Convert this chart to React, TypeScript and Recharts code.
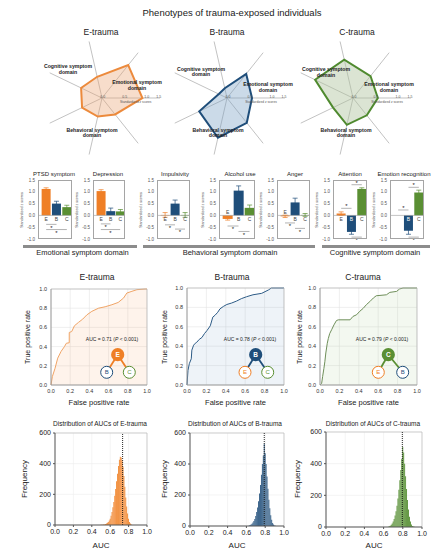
import React from 'react';
import {
  RadarChart, Radar, PolarGrid, PolarAngleAxis, PolarRadiusAxis,
  BarChart, Bar, XAxis, YAxis, ErrorBar, ReferenceLine, LabelList,
  AreaChart, Area, CartesianGrid,
} from 'recharts';

const FONT = '"Liberation Sans", Arial, Helvetica, sans-serif';

const ORANGE = '#ef7f26';
const BLUE = '#1f4e7a';
const GREEN = '#5a8f33';

// mean standardized z scores per trait, for E / B / C trauma groups
const traits = ['PTSD symptom', 'Depression', 'Impulsivity', 'Alcohol use', 'Anger', 'Attention', 'Emotion recognition'];
const eMeans = [1.12, 1.03, 0.02, -0.15, -0.04, 0.08, 0.0];
const bMeans = [0.5, 0.18, 0.5, 1.05, 0.55, -0.7, -0.65];
const cMeans = [0.35, 0.17, 0.02, 0.32, 0.02, 1.12, 0.97];
const eErrs = [0.05, 0.06, 0.1, 0.05, 0.05, 0.07, 0.05];
const bErrs = [0.1, 0.13, 0.15, 0.2, 0.18, 0.1, 0.15];
const cErrs = [0.08, 0.08, 0.1, 0.12, 0.06, 0.05, 0.1];
const zTicks = [-1, -0.5, 0, 0.5, 1, 1.5];

// spokes on the radar, clockwise starting from the upper-right spoke
const radarOrder = ['PTSD symptom', 'Depression', 'Anger', 'Alcohol use', 'Impulsivity', 'Attention', 'Emotion recognition'];

// significance brackets: [from, to, y, side]
const brackets: [string, string, number, string][][] = [
  [['E', 'B', -0.38, 'bottom'], ['E', 'C', -0.6, 'bottom']],
  [['E', 'B', -0.36, 'bottom'], ['E', 'C', -0.6, 'bottom']],
  [['E', 'B', -0.4, 'bottom'], ['B', 'C', -0.58, 'bottom']],
  [['E', 'B', -0.45, 'bottom'], ['B', 'C', -0.68, 'bottom']],
  [['E', 'B', -0.32, 'bottom'], ['B', 'C', -0.55, 'bottom']],
  [['E', 'B', 0.3, 'top'], ['B', 'C', 1.3, 'top'], ['B', 'C', -0.92, 'bottom']],
  [['E', 'B', 0.23, 'top'], ['B', 'C', 1.19, 'top'], ['B', 'C', -0.92, 'bottom']],
];

// ROC curves
const rocEFpr = [0, 0.014, 0.042, 0.07, 0.105, 0.14, 0.16, 0.19, 0.19, 0.216, 0.244, 0.286, 0.33, 0.373, 0.425, 0.495, 0.564, 0.634, 0.7, 0.756, 0.79, 0.843, 0.895, 0.98, 1];
const rocETpr = [0, 0.087, 0.174, 0.28, 0.35, 0.4, 0.435, 0.44, 0.547, 0.557, 0.617, 0.652, 0.686, 0.73, 0.767, 0.8, 0.815, 0.836, 0.86, 0.906, 0.958, 0.976, 0.993, 1, 1];
const rocBFpr = [0, 0.01, 0.024, 0.044, 0.05, 0.068, 0.085, 0.1, 0.126, 0.154, 0.18, 0.205, 0.24, 0.266, 0.29, 0.317, 0.34, 0.375, 0.41, 0.46, 0.51, 0.56, 0.614, 0.68, 0.77, 0.84, 0.87, 1];
const rocBTpr = [0, 0.15, 0.22, 0.27, 0.36, 0.41, 0.43, 0.44, 0.47, 0.49, 0.53, 0.56, 0.61, 0.7, 0.72, 0.75, 0.785, 0.81, 0.83, 0.845, 0.865, 0.89, 0.91, 0.93, 0.945, 0.98, 1, 1];
const rocCFpr = [0, 0.017, 0.027, 0.04, 0.05, 0.06, 0.075, 0.086, 0.1, 0.12, 0.144, 0.17, 0.19, 0.31, 0.34, 0.377, 0.41, 0.445, 0.48, 0.514, 0.55, 0.58, 0.685, 0.72, 0.79, 0.82, 0.856, 1];
const rocCTpr = [0, 0.017, 0.086, 0.17, 0.24, 0.33, 0.43, 0.48, 0.53, 0.57, 0.62, 0.665, 0.672, 0.672, 0.707, 0.724, 0.76, 0.79, 0.83, 0.86, 0.897, 0.92, 0.93, 0.955, 0.965, 0.99, 1, 1];

// permutation AUC histograms
const histBins = [0.5, 0.51, 0.52, 0.53, 0.54, 0.55, 0.56, 0.57, 0.58, 0.59, 0.6, 0.61, 0.62, 0.63, 0.64, 0.65, 0.66, 0.67, 0.68, 0.69, 0.7, 0.71, 0.72, 0.73, 0.74, 0.75, 0.76, 0.77, 0.78, 0.79, 0.8, 0.81, 0.82, 0.83, 0.84, 0.85, 0.86, 0.87, 0.88, 0.89, 0.9, 0.91, 0.92];
const histE = [1, 1, 2, 3, 4, 6, 9, 14, 20, 30, 40, 60, 85, 115, 150, 190, 235, 285, 335, 385, 425, 445, 440, 420, 380, 320, 250, 180, 120, 75, 40, 20, 10, 4, 0, 0, 0, 0, 0, 0, 0, 0, 0];
const histB = [0, 0, 0, 0, 0, 0, 0, 0, 0, 0, 0, 0, 0, 3, 6, 10, 15, 22, 32, 45, 65, 90, 120, 160, 210, 265, 330, 400, 455, 530, 470, 400, 320, 240, 170, 115, 70, 40, 20, 10, 4, 2, 0];
const histC = [0, 0, 0, 0, 0, 0, 0, 0, 0, 0, 0, 0, 0, 0, 0, 2, 4, 8, 14, 22, 34, 50, 72, 100, 135, 180, 235, 295, 360, 430, 505, 470, 400, 320, 240, 170, 110, 65, 35, 16, 7, 3, 1];

const radarData = radarOrder.map((t) => {
  const i = traits.indexOf(t);
  return { trait: t, E: eMeans[i], B: bMeans[i], C: cMeans[i] };
});
const histData = histBins.map((auc, i) => ({ auc, E: histE[i], B: histB[i], C: histC[i] }));
const toRoc = (f: number[], t: number[]) => f.map((v, i) => ({ fpr: v, tpr: t[i] }));

function Txt({ x, y, size, children, bold, color, rotate, italic }: any) {
  return (
    <div style={{
      position: 'absolute', left: x, top: y,
      transform: `translate(-50%,-50%)${rotate ? ` rotate(${rotate}deg)` : ''}`,
      fontSize: size, fontWeight: bold ? 'bold' : 'normal', fontStyle: italic ? 'italic' : 'normal',
      color: color || '#222', whiteSpace: 'nowrap', lineHeight: 1.15, textAlign: 'center', fontFamily: FONT,
    }}>{children}</div>
  );
}

function RadarPanel({ cx, cy, group, stroke, fill, opacity }: any) {
  return (
    <div style={{ position: 'absolute', left: cx - 65, top: cy - 65, width: 130, height: 130 }}>
      <RadarChart width={130} height={130} data={radarData} outerRadius={58} startAngle={51.43} endAngle={-308.57}
        margin={{ top: 0, right: 0, bottom: 0, left: 0 }}>
        <PolarGrid gridType="polygon" polarRadius={[]} stroke="#a8a8a8" strokeWidth={0.7} />
        <PolarAngleAxis dataKey="trait" tick={false} axisLine={false} tickLine={false} />
        <PolarRadiusAxis domain={[-1.2, 1.5]} allowDataOverflow tick={false} axisLine={false} />
        <Radar dataKey={group} stroke={stroke} strokeWidth={2} fill={fill} fillOpacity={opacity}
          dot={false} isAnimationActive={false} />
      </RadarChart>
    </div>
  );
}

function RadarScale({ cx, cy }: any) {
  return (
    <>
      <Txt x={cx + 1} y={cy - 1.5} size={3.5} color="#555">0.0</Txt>
      <Txt x={cx + 23} y={cy - 1.5} size={3.5} color="#555">0.5</Txt>
      <Txt x={cx + 45} y={cy - 1.5} size={3.5} color="#555">1.0</Txt>
      <Txt x={cx + 57} y={cy - 1.5} size={3.5} color="#555">1.5</Txt>
      <Txt x={cx + 34} y={cy + 5} size={3.2} color="#555">Standardized z scores</Txt>
    </>
  );
}

const letterLabel = (letter: string) => (props: any) => {
  const { value } = props;
  if (value == null) return null;
  const vb = props.viewBox || props;
  const { x, y, width, height } = vb;
  if (x == null || y == null) return null;
  const top = Math.min(y, y + height);
  const bot = Math.max(y, y + height);
  const zero = value >= 0 ? bot : top;
  let ty = zero + 4;
  let fill = '#444';
  if (value < -0.3) fill = '#fff';
  else if (value < 0) ty = zero - 2.5;
  return (
    <text x={x + width / 2} y={ty} textAnchor="middle" dominantBaseline="middle" fontSize={5}
      fill={fill} fontFamily={FONT}>{letter}</text>
  );
};

function BarPanel({ idx, left, right, titleX }: any) {
  const rows = [
    { g: 'E', e: eMeans[idx], eErr: eErrs[idx] },
    { g: 'B', b: bMeans[idx], bErr: bErrs[idx] },
    { g: 'C', c: cMeans[idx], cErr: cErrs[idx] },
  ];
  const w = right - left;
  const yw = 12;
  const series = [
    { key: 'e', err: 'eErr', color: ORANGE, letter: 'E' },
    { key: 'b', err: 'bErr', color: BLUE, letter: 'B' },
    { key: 'c', err: 'cErr', color: GREEN, letter: 'C' },
  ];
  return (
    <>
      <Txt x={titleX} y={174} size={6}>{traits[idx]}</Txt>
      <Txt x={left - 16} y={210} size={3.6} rotate={-90} color="#444">Standardized z scores</Txt>
      <div style={{ position: 'absolute', left: left - yw, top: 176 }}>
        <BarChart width={w + yw + 2} height={73} data={rows} margin={{ top: 4, right: 2, bottom: 10, left: 0 }}
          barCategoryGap="6%">
          <XAxis dataKey="g" hide padding={{ left: 3, right: 0 }} />
          <YAxis domain={[-1, 1.5]} ticks={zTicks} width={yw} tickSize={1} tickMargin={2} axisLine={false}
            tickLine={false} tick={{ fontSize: 4.5, fill: '#555', fontFamily: FONT }}
            tickFormatter={(v: number) => v.toFixed(1)} interval={0} />
          <ReferenceLine y={0} stroke="#9a9a9a" strokeWidth={0.6} />
          {series.map((s) => (
            <Bar key={s.key} dataKey={s.key} stackId="s" fill={s.color} isAnimationActive={false}>
              <ErrorBar dataKey={s.err} width={2.5} strokeWidth={0.7} stroke={s.color} direction="y" />
              <LabelList dataKey={s.key} content={letterLabel(s.letter)} />
            </Bar>
          ))}
          {brackets[idx].map(([a, b, y, side], k) => (
            <ReferenceLine key={k} segment={[{ x: a, y }, { x: b, y }]} stroke="#666" strokeWidth={0.5}
              label={{ value: '*', position: side, fontSize: 6, fill: '#222', offset: side === 'top' ? 0 : 1 }} />
          ))}
        </BarChart>
      </div>
      <div style={{
        position: 'absolute', left, top: 180, width: w, height: 59, boxSizing: 'border-box',
        border: '0.8px solid #a5a5a5', pointerEvents: 'none',
      }} />
    </>
  );
}

function RocPanel({ plot, data, stroke, fill, title, titleX, ylabX, auc, aucX }: any) {
  const yw = 20;
  const w = plot.r - plot.l;
  const h = plot.b - plot.t;
  const axisTick = { fontSize: 5.5, fill: '#333', fontFamily: FONT };
  const ticks = [0, 0.2, 0.4, 0.6, 0.8, 1];
  return (
    <>
      <Txt x={titleX} y={278} size={8.5}>{title}</Txt>
      <Txt x={ylabX} y={337} size={7} rotate={-90}>True positive rate</Txt>
      <Txt x={(plot.l + plot.r) / 2} y={403} size={7.5}>False positive rate</Txt>
      <div style={{ position: 'absolute', left: plot.l - yw, top: plot.t - 5 }}>
        <AreaChart width={w + yw + 8} height={h + 5 + 12} data={data}
          margin={{ top: 5, right: 8, bottom: 0, left: 0 }}>
          <CartesianGrid stroke="#e4e4e4" strokeWidth={0.6} />
          <XAxis dataKey="fpr" type="number" domain={[0, 1]} ticks={ticks} height={12} tickSize={2} tickMargin={2}
            tickLine={false} stroke="#9a9a9a" tick={axisTick} tickFormatter={(v: number) => v.toFixed(1)} interval={0} />
          <YAxis type="number" domain={[0, 1]} ticks={ticks} width={yw} tickSize={2} tickMargin={2}
            tickLine={false} stroke="#9a9a9a" tick={axisTick} tickFormatter={(v: number) => v.toFixed(1)} interval={0} />
          <Area type="linear" dataKey="tpr" stroke={stroke} strokeWidth={1} fill={fill} fillOpacity={0.09}
            isAnimationActive={false} dot={false} />
          <ReferenceLine x={1} stroke="#b5b5b5" strokeWidth={0.7} />
          <ReferenceLine y={1} stroke="#b5b5b5" strokeWidth={0.7} />
        </AreaChart>
      </div>
      <Txt x={aucX} y={340} size={5}>AUC = {auc} (<i>P</i> &lt; 0.001)</Txt>
    </>
  );
}

function HistPanel({ plot, group, color, line, title, titleX, ylabX }: any) {
  const yw = 22;
  const w = plot.r - plot.l;
  const h = plot.b - plot.t;
  const tick = { fontSize: 7, fill: '#222', fontFamily: FONT };
  return (
    <>
      <Txt x={titleX} y={424} size={6.5}>{title}</Txt>
      <Txt x={ylabX} y={479} size={8} rotate={-90}>Frequency</Txt>
      <Txt x={(plot.l + plot.r) / 2} y={546} size={8}>AUC</Txt>
      <div style={{ position: 'absolute', left: plot.l - yw, top: plot.t - 6 }}>
        <BarChart width={w + yw + 9} height={h + 6 + 14} data={histData}
          margin={{ top: 6, right: 9, bottom: 0, left: 0 }} barCategoryGap={0} barGap={0}>
          <CartesianGrid stroke="#ececec" strokeWidth={0.6} />
          <XAxis dataKey="auc" type="number" domain={[0, 1]} ticks={[0, 0.2, 0.4, 0.6, 0.8, 1]} height={14}
            tickSize={2} tickMargin={2} stroke="#555" tick={tick} tickFormatter={(v: number) => v.toFixed(1)} interval={0} />
          <YAxis domain={[0, 600]} ticks={[0, 200, 400, 600]} width={yw} tickSize={2} tickMargin={2}
            stroke="#555" tick={tick} interval={0} />
          <ReferenceLine x={1} stroke="#bdbdbd" strokeWidth={0.7} />
          <ReferenceLine y={600} stroke="#bdbdbd" strokeWidth={0.7} />
          <Bar dataKey={group} fill={color} barSize={1.3} isAnimationActive={false} />
          <ReferenceLine x={line} stroke="#111" strokeWidth={0.9} strokeDasharray="1 1" />
        </BarChart>
      </div>
    </>
  );
}

function Diagram({ big, left, right, colors }: any) {
  const [bl, ll, rl] = colors;
  return (
    <g fontFamily={FONT}>
      <line x1={big.x} y1={big.y} x2={left.x} y2={left.y} stroke={bl} strokeWidth={1.8} />
      <line x1={big.x} y1={big.y} x2={right.x} y2={right.y} stroke={bl} strokeWidth={1.8} />
      <circle cx={big.x} cy={big.y} r={6.6} fill={bl} />
      <text x={big.x} y={big.y + 0.3} fontSize={6.5} fontWeight="bold" fill="#fff" textAnchor="middle"
        dominantBaseline="middle">{big.t}</text>
      <circle cx={left.x} cy={left.y} r={6} fill="#fff" stroke={ll} strokeWidth={1} />
      <text x={left.x} y={left.y + 0.3} fontSize={6} fill={ll} textAnchor="middle" dominantBaseline="middle">{left.t}</text>
      <circle cx={right.x} cy={right.y} r={6} fill="#fff" stroke={rl} strokeWidth={1} />
      <text x={right.x} y={right.y + 0.3} fontSize={6} fill={rl} textAnchor="middle" dominantBaseline="middle">{right.t}</text>
    </g>
  );
}

export default function App() {
  const domLabel = (x: number, y: number, a: string) => (
    <Txt x={x} y={y} size={5.2} bold>{a}<br />domain</Txt>
  );
  return (
    <div style={{ position: 'absolute', left: 0, top: 0, width: 437, height: 558, background: '#fff', fontFamily: FONT, overflow: 'hidden' }}>
      <Txt x={232} y={13} size={9.5}>Phenotypes of trauma-exposed individuals</Txt>

      {/* radar profiles */}
      <Txt x={101} y={33} size={8.5}>E-trauma</Txt>
      <Txt x={227} y={33} size={8.5}>B-trauma</Txt>
      <Txt x={357} y={33} size={8.5}>C-trauma</Txt>
      <RadarPanel cx={101.7} cy={98} group="E" stroke="#ec8a3c" fill="#e9a575" opacity={0.38} />
      <RadarPanel cx={227} cy={98} group="B" stroke={BLUE} fill="#7ea2c6" opacity={0.4} />
      <RadarPanel cx={353} cy={98} group="C" stroke="#4f8a2f" fill="#b0c39e" opacity={0.45} />
      <RadarScale cx={101.7} cy={98} />
      <RadarScale cx={227} cy={98} />
      <RadarScale cx={353} cy={98} />
      {domLabel(68, 70, 'Cognitive symptom')}
      {domLabel(137, 86, 'Emotional symptom')}
      {domLabel(92, 133.5, 'Behavioral symptom')}
      {domLabel(201, 72.5, 'Cognitive symptom')}
      {domLabel(268, 88, 'Emotional symptom')}
      {domLabel(218, 133.5, 'Behavioral symptom')}
      {domLabel(326, 73, 'Cognitive symptom')}
      {domLabel(389, 88, 'Emotional symptom')}
      {domLabel(346, 133.5, 'Behavioral symptom')}

      {/* bar panels */}
      <BarPanel idx={0} left={38} right={72} titleX={54} />
      <BarPanel idx={1} left={93} right={125} titleX={108} />
      <BarPanel idx={2} left={157} right={190} titleX={175} />
      <BarPanel idx={3} left={219} right={255} titleX={240} />
      <BarPanel idx={4} left={277} right={310} titleX={295} />
      <BarPanel idx={5} left={333} right={367} titleX={350} />
      <BarPanel idx={6} left={390} right={424} titleX={404} />
      {[[23, 137], [143, 315], [322, 430]].map(([a, b], i) => (
        <div key={i} style={{ position: 'absolute', left: a, top: 245, width: b - a, height: 2.5, background: '#8c8c8c' }} />
      ))}
      <Txt x={82.5} y={253} size={7.5}>Emotional symptom domain</Txt>
      <Txt x={230} y={253} size={7.5}>Behavioral symptom domain</Txt>
      <Txt x={375} y={253} size={7.5}>Cognitive symptom domain</Txt>

      {/* ROC curves */}
      <RocPanel plot={{ l: 51, t: 289, r: 147, b: 385 }} data={toRoc(rocEFpr, rocETpr)} stroke="#f0a466" fill={ORANGE}
        title="E-trauma" titleX={97} ylabX={28} auc="0.71" aucX={112} />
      <RocPanel plot={{ l: 187, t: 288, r: 284, b: 385 }} data={toRoc(rocBFpr, rocBTpr)} stroke="#2d5b86" fill="#3d7ab5"
        title="B-trauma" titleX={232} ylabX={165} auc="0.78" aucX={250} />
      <RocPanel plot={{ l: 320, t: 288, r: 417, b: 385 }} data={toRoc(rocCFpr, rocCTpr)} stroke="#6f8f5a" fill="#7fb356"
        title="C-trauma" titleX={363} ylabX={300} auc="0.79" aucX={382} />
      <svg width={437} height={558} style={{ position: 'absolute', left: 0, top: 0, pointerEvents: 'none' }}>
        <Diagram big={{ x: 117.7, y: 354.7, t: 'E' }} left={{ x: 106.7, y: 372.3, t: 'B' }} right={{ x: 129.3, y: 372.3, t: 'C' }}
          colors={[ORANGE, BLUE, GREEN]} />
        <Diagram big={{ x: 255.7, y: 354.7, t: 'B' }} left={{ x: 245, y: 372.3, t: 'E' }} right={{ x: 267.7, y: 372.3, t: 'C' }}
          colors={[BLUE, ORANGE, GREEN]} />
        <Diagram big={{ x: 388.3, y: 354.7, t: 'C' }} left={{ x: 378.3, y: 372.3, t: 'E' }} right={{ x: 402.7, y: 372.3, t: 'B' }}
          colors={[GREEN, ORANGE, BLUE]} />
      </svg>

      {/* permutation histograms */}
      <HistPanel plot={{ l: 55, t: 433, r: 147, b: 525 }} group="E" color="#f07f22" line={0.735}
        title="Distribution of AUCs of E-trauma" titleX={100} ylabX={25} />
      <HistPanel plot={{ l: 190, t: 433, r: 284, b: 526 }} group="B" color={BLUE} line={0.79}
        title="Distribution of AUCs of B-trauma" titleX={235} ylabX={165} />
      <HistPanel plot={{ l: 326, t: 432, r: 422, b: 527 }} group="C" color="#4f8a2b" line={0.795}
        title="Distribution of AUCs of C-trauma" titleX={373} ylabX={298} />
    </div>
  );
}
